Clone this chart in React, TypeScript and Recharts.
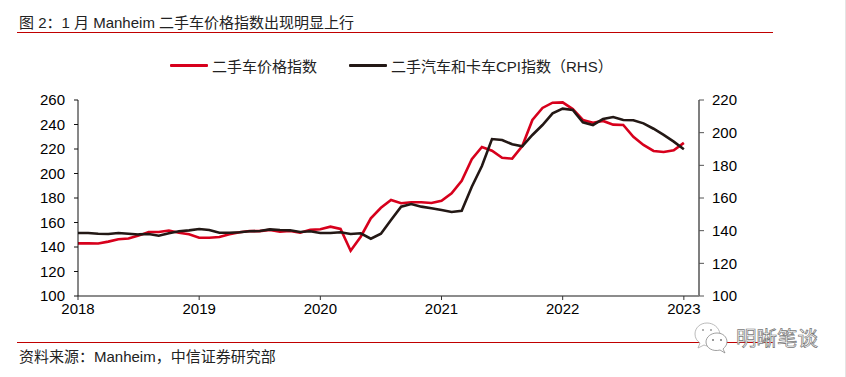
import { LineChart, Line, XAxis, YAxis, Legend } from "recharts";

const FONT = '"Liberation Sans", "Noto Sans CJK SC", sans-serif';
const RED = "#d7001c";
const BLACK = "#231815";

const months = [
  0, 1, 2, 3, 4, 5, 6, 7, 8, 9, 10, 11,
  12, 13, 14, 15, 16, 17, 18, 19, 20, 21, 22, 23,
  24, 25, 26, 27, 28, 29, 30, 31, 32, 33, 34, 35,
  36, 37, 38, 39, 40, 41, 42, 43, 44, 45, 46, 47,
  48, 49, 50, 51, 52, 53, 54, 55, 56, 57, 58, 59,
  60,
];

// 二手车价格指数 (left axis)
const manheim = [
  143, 143, 142.8, 144.4, 146.3, 147, 149.3, 152.3, 152.3, 153.4, 151.7, 150.4,
  147.6, 147.6, 148.2, 150.4, 152, 153, 153, 154, 152.5, 153, 151.7, 154,
  154.5, 156.6, 154.7, 137, 148.4, 163.4, 172, 178.4, 175.7, 176.5, 176.5, 175.9,
  177.8, 183.8, 194, 211.6, 221.6, 218.6, 212.9, 212.1, 222.4, 243.7, 253.5, 257.8,
  258.1, 252.6, 243.7, 241.5, 242.9, 239.9, 239.6, 230, 223.3, 218.4, 217.6, 218.9,
  225,
];

// 二手汽车和卡车CPI指数 (right axis)
const cpi = [
  138.6, 138.6, 138.1, 138, 138.6, 138.1, 137.7, 138, 136.9, 138.4, 139.6, 140.2,
  141, 140.4, 138.7, 138.7, 139, 139.6, 139.8, 140.8, 140.4, 140.2, 139.2, 139.6,
  138.6, 138.6, 139, 138, 138.4, 135.1, 138.1, 146.5, 154.7, 156.3, 154.7, 153.7,
  152.6, 151.4, 152.2, 166.9, 179.6, 196.1, 195.5, 192.9, 191.6, 198.6, 204.7, 211.8,
  214.7, 213.9, 206.3, 204.7, 208.4, 209.6, 207.8, 207.6, 205.7, 202.4, 198.6, 194.5,
  189.8,
];

const yearTicks = [0, 12, 24, 36, 48, 60];
const yearLabels = ["2018", "2019", "2020", "2021", "2022", "2023"];
const leftTicks = [100, 120, 140, 160, 180, 200, 220, 240, 260];
const rightTicks = [100, 120, 140, 160, 180, 200, 220];

const rows = months.map((m, i) => ({ m, manheim: manheim[i], cpi: cpi[i] }));

const tickStyle = { fontSize: 15, fill: "#000", fontFamily: FONT };

function ChartLegend() {
  const item = (left: number, color: string, label: string) => (
    <div style={{ position: "absolute", left, top: 0, display: "flex", alignItems: "center", height: 20, whiteSpace: "nowrap" }}>
      <span style={{ width: 38, height: 3, background: color, borderRadius: 1, marginRight: 4 }} />
      <span style={{ fontSize: 15, color: "#222", fontFamily: FONT }}>{label}</span>
    </div>
  );
  return (
    <div style={{ position: "relative", width: 846, height: 20 }}>
      {item(170, RED, "二手车价格指数")}
      {item(349, BLACK, "二手汽车和卡车CPI指数（RHS）")}
    </div>
  );
}

function Watermark() {
  return (
    <>
      <svg width={36} height={32} style={{ position: "absolute", left: 694, top: 322 }}>
        <path d="M 26 12 C 25 5 19 1 13 1 C 6 1 1 6 1 12 C 1 16 3 19 6 21 L 4 26 L 10 23 C 12 24 14 24 16 24" fill="#fff" stroke="#aaa" strokeWidth={0.8} />
        <path d="M 23 11 C 29 11 33 15 33 20 C 33 23 31 25 29 27 L 31 31 L 26 28 C 19 30 12 26 12 20 C 12 15 17 11 23 11 Z" fill="#fff" stroke="#888" strokeWidth={0.8} />
        <circle cx={9} cy={8} r={1} fill="#999" />
        <circle cx={17} cy={8} r={1} fill="#999" />
        <circle cx={19} cy={18} r={1} fill="#777" />
        <circle cx={27} cy={18} r={1} fill="#777" />
      </svg>
      <div
        style={{
          position: "absolute",
          left: 736,
          top: 326,
          fontSize: 20.5,
          lineHeight: "26px",
          fontFamily: FONT,
          color: "#fff",
          WebkitTextStroke: "0.7px #777",
          whiteSpace: "nowrap",
        }}
      >
        明晰笔谈
      </div>
    </>
  );
}

export default function App() {
  return (
    <div style={{ position: "fixed", left: 0, top: 0, width: 846, height: 377, background: "#fff", overflow: "hidden", fontFamily: FONT }}>
      <div style={{ position: "absolute", left: 19, top: 14, fontSize: 15, lineHeight: "18px", color: "#222", whiteSpace: "pre" }}>
        图 2：1 月 Manheim 二手车价格指数出现明显上行
      </div>
      <div style={{ position: "absolute", left: 17, top: 32, width: 756, height: 1, background: "#c00000" }} />

      <LineChart
        width={846}
        height={377}
        data={rows}
        margin={{ top: 100, right: 0, bottom: 0, left: 0 }}
        style={{ position: "absolute", left: 0, top: 0 }}
      >
        <XAxis
          dataKey="m"
          type="number"
          domain={[0, 61.5]}
          ticks={yearTicks}
          interval={0}
          tickFormatter={(v: number) => yearLabels[yearTicks.indexOf(v)]}
          height={61}
          tick={tickStyle}
          tickSize={4}
          tickMargin={3}
          axisLine={{ stroke: "#666", strokeWidth: 1.5 }}
          tickLine={{ stroke: "#333" }}
        />
        <YAxis
          yAxisId="left"
          width={78}
          domain={[100, 260]}
          ticks={leftTicks}
          interval={0}
          tick={tickStyle}
          tickSize={4}
          tickMargin={9}
          axisLine={{ stroke: "#111" }}
          tickLine={{ stroke: "#111" }}
        />
        <YAxis
          yAxisId="right"
          orientation="right"
          width={147}
          domain={[100, 220]}
          ticks={rightTicks}
          interval={0}
          tick={tickStyle}
          tickSize={5}
          tickMargin={8}
          axisLine={{ stroke: "#7f7f7f", strokeWidth: 2 }}
          tickLine={{ stroke: "#555" }}
        />
        <Legend
          content={<ChartLegend />}
          wrapperStyle={{ position: "absolute", left: 0, top: 55, width: 846, height: 20, bottom: "auto" }}
        />
        <Line
          yAxisId="left"
          type="linear"
          dataKey="manheim"
          stroke={RED}
          strokeWidth={2.6}
          dot={false}
          isAnimationActive={false}
        />
        <Line
          yAxisId="right"
          type="linear"
          dataKey="cpi"
          stroke={BLACK}
          strokeWidth={2.6}
          dot={false}
          isAnimationActive={false}
        />
      </LineChart>

      <div style={{ position: "absolute", left: 17, top: 342, width: 756, height: 1, background: "#c00000" }} />
      <div style={{ position: "absolute", left: 19, top: 348, fontSize: 15, lineHeight: "18px", color: "#222", whiteSpace: "pre" }}>
        资料来源：Manheim，中信证券研究部
      </div>
      <Watermark />
      <div style={{ position: "absolute", left: 845, top: 0, width: 1, height: 377, background: "#e4e4e4" }} />
    </div>
  );
}
